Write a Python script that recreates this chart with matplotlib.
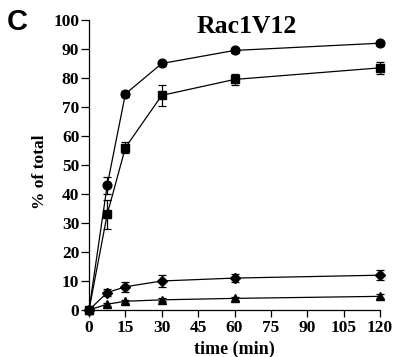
import matplotlib
matplotlib.use("Agg")
import matplotlib.pyplot as plt
import numpy as np

time = [0, 7.5, 15, 30, 60, 120]
circle = [0, 43, 74.5, 85, 89.5, 92]
circle_err = [0, 3, 1, 1, 1, 0.8]
square = [0, 33, 56, 74, 79.5, 83.5]
square_err = [0, 5, 2, 3.5, 2, 2]
diamond = [0, 6, 8, 10, 11, 12]
diamond_err = [0, 1.3, 1.7, 2, 1.5, 1.7]
triangle = [0, 2, 3, 3.5, 4, 4.7]
triangle_err = [0, 0.5, 0.5, 0.5, 0.5, 0.7]
xticks = [0, 15, 30, 45, 60, 75, 90, 105, 120]
yticks = [0, 10, 20, 30, 40, 50, 60, 70, 80, 90, 100]

serif = ["Liberation Serif", "DejaVu Serif"]

fig = plt.figure(figsize=(3.93, 3.57), dpi=100)
ax = fig.add_axes([0.2265, 0.1317, 0.7405, 0.8123])

series = [(circle, circle_err, "o", 6.3), (square, square_err, "s", 6),
          (diamond, diamond_err, "D", 4.8), (triangle, triangle_err, "^", 6)]
for vals, err, m, ms in series:
    ax.errorbar(time, vals, yerr=err, color="black", marker=m, markersize=ms,
                linewidth=0.9, elinewidth=0.9, capsize=2.8, capthick=0.9,
                clip_on=False, zorder=3)

ax.set_xlim(0, 120)
ax.set_ylim(0, 100)
ax.set_xticks(xticks)
ax.set_yticks(yticks)
ax.spines["top"].set_visible(False)
ax.spines["right"].set_visible(False)
for s in ["left", "bottom"]:
    ax.spines[s].set_linewidth(0.9)
ax.tick_params(axis="y", direction="out", length=5.5, width=0.9, pad=1.5)
ax.tick_params(axis="x", direction="out", length=5, width=0.9, pad=2)
for lab in ax.get_xticklabels() + ax.get_yticklabels():
    lab.set_fontfamily(serif)
    lab.set_fontweight("bold")
    lab.set_fontsize(12.5)

ax.set_xlabel("time (min)", fontfamily=serif, fontweight="bold", fontsize=13)
ax.xaxis.set_label_coords(0.5, -0.105)
ax.set_ylabel("% of total", fontfamily=serif, fontweight="bold", fontsize=12.5)
ax.yaxis.set_label_coords(-0.14, 0.478)
fig.text(0.6285, 0.9076, "Rac1V12", ha="center", va="baseline",
         fontfamily=serif, fontweight="bold", fontsize=18.5)
fig.text(0.018, 0.916, "C", ha="left", va="baseline",
         fontfamily=["Liberation Sans", "DejaVu Sans"],
         fontweight="bold", fontsize=21)

fig.savefig("out.png", dpi=100)
